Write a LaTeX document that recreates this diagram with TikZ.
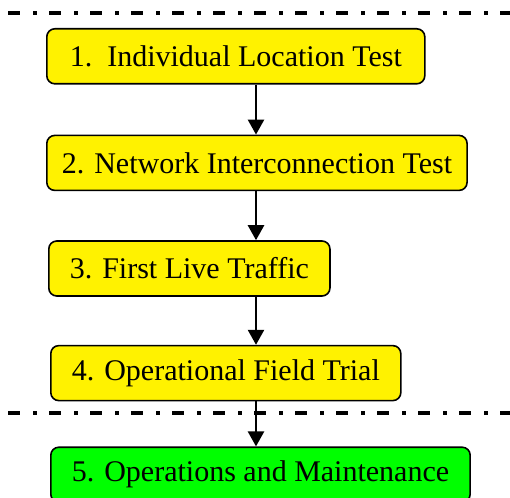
\documentclass[tikz,border=0pt]{standalone}
\usepackage{fontspec}
\setmainfont{Liberation Serif}
\usetikzlibrary{arrows.meta,positioning}
\tikzset{
  stage/.style={draw, line width=1.6pt, rounded corners=8pt, fill=yellow, inner xsep=21pt, inner ysep=0pt, minimum height=55pt, font=\fontsize{30}{36}\selectfont},
  livestage/.style={stage, fill=green},
  flow/.style={-{Triangle[width=16pt,length=15pt]}, line width=2.5pt},
  boundary/.style={line width=4pt, dash pattern=on 12pt off 13pt on 4pt off 12pt}
}
\begin{document}
\begin{tikzpicture}[x=1pt,y=-1pt]
    \useasboundingbox (0,0) rectangle (510,497);
    \coordinate (spine) at (256,0);
    % phase boundaries
    \coordinate (topleft) at (8,13);
    \coordinate (topright) at (520,13);
    \coordinate (bottomleft) at (8,413);
    \coordinate (bottomright) at (520,413);
    \draw[boundary] (topleft) -- (topright);
    % stages
    \node[stage, inner xsep=23pt, anchor=north west] (locationtest) at (46,28) {1.\ \ Individual Location Test};
    \node[stage, inner xsep=15pt, below=50pt of locationtest.south west, anchor=north west] (interconnecttest) {2. Network Interconnection Test};
    \draw[flow] (locationtest.south -| spine) -- (interconnecttest.north -| spine);
    \node[stage, below=49pt of interconnecttest.south west, anchor=north west, xshift=2pt] (livetraffic) {3. First Live Traffic};
    \draw[flow] (interconnecttest.south -| spine) -- (livetraffic.north -| spine);
    \node[stage, below=48pt of livetraffic.south west, anchor=north west, xshift=2pt] (fieldtrial) {4. Operational Field Trial};
    \draw[flow] (livetraffic.south -| spine) -- (fieldtrial.north -| spine);
    \draw[boundary] (bottomleft) -- (bottomright);
    \node[livestage, below=45pt of fieldtrial.south west, anchor=north west] (operations) {5. Operations and Maintenance};
    \draw[flow] (fieldtrial.south -| spine) -- (operations.north -| spine);
\end{tikzpicture}
\end{document}
